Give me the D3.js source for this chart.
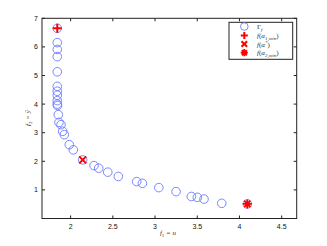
<!DOCTYPE html>
<html>
<head>
<meta charset="utf-8">
<script src="https://cdn.jsdelivr.net/npm/d3@7"></script>
<style>
  body { margin: 0; background: #fff; }
  text { font-family: "Liberation Sans", Arial, sans-serif; }
  .lab { font-family: "Liberation Serif", "DejaVu Serif", serif; font-style: italic; }
</style>
</head>
<body>
<svg id="chart" width="327" height="246"></svg>
<script>
// Gamma_f points (f1, f2)
const gammaF1 = [1.842, 1.842, 1.842, 1.842, 1.842, 1.842, 1.842, 1.842, 1.842, 1.842, 1.845,
                 1.854, 1.862, 1.886, 1.906, 1.925, 1.984, 2.032, 2.143, 2.277, 2.333, 2.44,
                 2.565, 2.783, 2.85, 3.045, 3.249, 3.43, 3.501, 3.58, 3.79, 4.093];
const gammaF2 = [6.65, 6.15, 5.91, 5.66, 5.13, 4.62, 4.45, 4.31, 4.12, 4.0, 3.95,
                 3.63, 3.36, 3.28, 3.05, 2.93, 2.58, 2.40, 2.05, 1.85, 1.76, 1.62,
                 1.47, 1.29, 1.23, 1.08, 0.94, 0.77, 0.74, 0.68, 0.53, 0.51];

// special points
const alpha1Min = [1.842, 6.65];
const alphaStar = [2.143, 2.05];
const alpha2Min = [4.093, 0.51];

const xTicks = [2, 2.5, 3, 3.5, 4, 4.5];
const xTickLabels = ['2', '2.5', '3', '3.5', '4', '4.5'];
const yTicks = [1, 2, 3, 4, 5, 6, 7];
const yTickLabels = ['1', '2', '3', '4', '5', '6', '7'];

const svg = d3.select('#chart');
const pl = 42, pr = 296.7, pt = 18.3, pb = 218.5;

const x = d3.scaleLinear().domain([1.661, 4.678]).range([pl, pr]);
const y = d3.scaleLinear().domain([0, 7]).range([pb, pt]);

const blue = '#6a7cff', red = '#ff0000';

// frame
svg.append('rect')
    .attr('x', pl).attr('y', pt)
    .attr('width', pr - pl).attr('height', pb - pt)
    .attr('fill', 'none').attr('stroke', '#222').attr('stroke-width', 1);

// ticks (inside, on all four sides)
const tl = 3;
xTicks.forEach((t, i) => {
    let px = x(t);
    svg.append('line').attr('x1', px).attr('x2', px).attr('y1', pb).attr('y2', pb - tl)
        .attr('stroke', '#222');
    svg.append('line').attr('x1', px).attr('x2', px).attr('y1', pt).attr('y2', pt + tl)
        .attr('stroke', '#222');
    svg.append('text').attr('x', px).attr('y', pb + 10)
        .attr('text-anchor', 'middle').attr('font-size', 7).attr('fill', '#111')
        .text(xTickLabels[i]);
});
yTicks.forEach((t, i) => {
    let py = y(t);
    svg.append('line').attr('x1', pl).attr('x2', pl + tl).attr('y1', py).attr('y2', py)
        .attr('stroke', '#222');
    svg.append('line').attr('x1', pr).attr('x2', pr - tl).attr('y1', py).attr('y2', py)
        .attr('stroke', '#222');
    svg.append('text').attr('x', pl - 4).attr('y', py + 2.5)
        .attr('text-anchor', 'end').attr('font-size', 7).attr('fill', '#111')
        .text(yTickLabels[i]);
});

// gamma circles
svg.append('g').selectAll('circle')
    .data(gammaF1.map((v, i) => [v, gammaF2[i]]))
    .enter().append('circle')
    .attr('cx', d => x(d[0])).attr('cy', d => y(d[1]))
    .attr('r', 4.3)
    .attr('fill', 'none').attr('stroke', blue).attr('stroke-width', 0.9);

// marker helpers
function plus(g, cx, cy, s) {
    g.append('path').attr('d', `M${cx - s},${cy}H${cx + s}M${cx},${cy - s}V${cy + s}`)
        .attr('stroke', red).attr('stroke-width', 2).attr('fill', 'none');
}
function cross(g, cx, cy, s) {
    g.append('path').attr('d', `M${cx - s},${cy - s}L${cx + s},${cy + s}M${cx - s},${cy + s}L${cx + s},${cy - s}`)
        .attr('stroke', red).attr('stroke-width', 2).attr('fill', 'none');
}
function star(g, cx, cy, s) {
    let d = '';
    for (let k = 0; k < 4; k++) {
        let a = k * Math.PI / 4;
        d += `M${cx - s * Math.cos(a)},${cy - s * Math.sin(a)}L${cx + s * Math.cos(a)},${cy + s * Math.sin(a)}`;
    }
    g.append('path').attr('d', d).attr('stroke', red).attr('stroke-width', 1.8).attr('fill', 'none');
    g.append('circle').attr('cx', cx).attr('cy', cy).attr('r', 2.5).attr('fill', red);
}

const mk = svg.append('g');
plus(mk, x(alpha1Min[0]), y(alpha1Min[1]), 4.5);
cross(mk, x(alphaStar[0]), y(alphaStar[1]), 3.5);
star(mk, x(alpha2Min[0]), y(alpha2Min[1]), 4.5);

// legend
const lg = svg.append('g');
lg.append('rect').attr('x', 229).attr('y', 22.3).attr('width', 63.7).attr('height', 37)
    .attr('fill', '#fff').attr('stroke', '#222').attr('stroke-width', 1);
const lx = 244.3, tx = 257;
const rows = [26.5, 35.5, 44, 52.7];
lg.append('circle').attr('cx', lx).attr('cy', rows[0]).attr('r', 3.8)
    .attr('fill', 'none').attr('stroke', blue).attr('stroke-width', 0.9);
plus(lg, lx, rows[1], 3.5);
cross(lg, lx, rows[2], 2.8);
star(lg, lx, rows[3], 3.6);

function legText(yy, parts) {
    let t = lg.append('text').attr('class', 'lab').attr('x', tx).attr('y', yy + 2.5)
        .attr('font-size', 7).attr('fill', '#333');
    parts.forEach(p => {
        let s = t.append('tspan').text(p.t);
        if (p.sub) s.attr('font-size', 5).attr('dy', 1.5);
        if (p.sup) s.attr('font-size', 5).attr('dy', -2.5);
        if (p.back) s.attr('dy', p.back);
        if (p.up) s.attr('font-style', 'normal');
    });
}
legText(rows[0], [{t: 'Γ', up: 1}, {t: 'f', sub: 1}]);
legText(rows[1], [{t: 'f', }, {t: '(', up: 1}, {t: 'α'}, {t: '1,min', sub: 1}, {t: ')', up: 1, back: -1.5}]);
legText(rows[2], [{t: 'f'}, {t: '(', up: 1}, {t: 'α'}, {t: '*', sup: 1}, {t: ')', up: 1, back: 2.5}]);
legText(rows[3], [{t: 'f'}, {t: '(', up: 1}, {t: 'α'}, {t: '2,min', sub: 1}, {t: ')', up: 1, back: -1.5}]);

// axis labels
let xl = svg.append('text').attr('class', 'lab').attr('x', 168).attr('y', 235)
    .attr('text-anchor', 'middle').attr('font-size', 7).attr('fill', '#333');
xl.append('tspan').text('f');
xl.append('tspan').text('1').attr('font-size', 5).attr('dy', 1.5).attr('font-style', 'normal');
xl.append('tspan').text(' = u').attr('dy', -1.5);

let yl = svg.append('text').attr('class', 'lab')
    .attr('transform', 'translate(30,118) rotate(-90)')
    .attr('text-anchor', 'middle').attr('font-size', 7).attr('fill', '#333');
yl.append('tspan').text('f');
yl.append('tspan').text('2').attr('font-size', 5).attr('dy', 1.5).attr('font-style', 'normal');
yl.append('tspan').text(' = ').attr('dy', -1.5);
yl.append('tspan').text('ȳ');
</script>
</body>
</html>
